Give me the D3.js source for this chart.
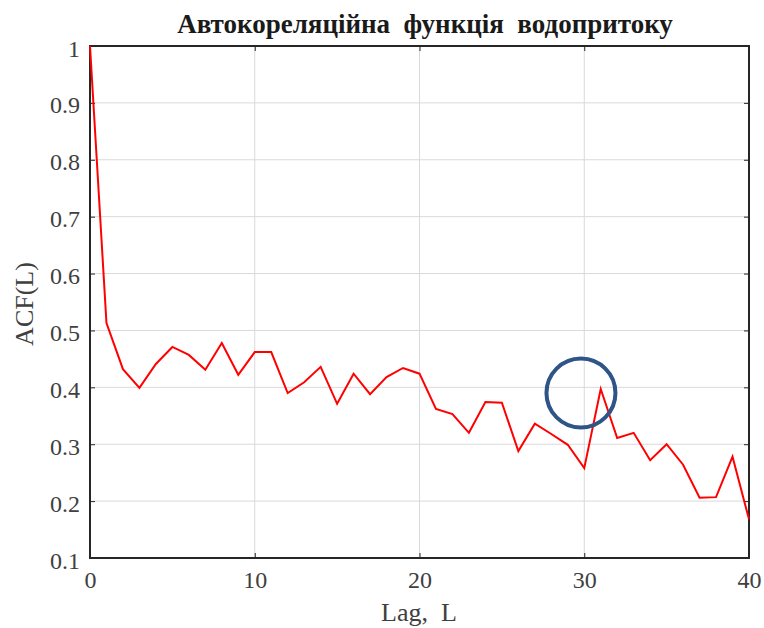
<!DOCTYPE html>
<html><head><meta charset="utf-8">
<script src="https://cdn.jsdelivr.net/npm/d3@7"></script>
<style>body{margin:0;background:#fff}svg{display:block}</style>
</head><body>
<svg id="c" width="764" height="628"></svg>
<script>
const lags = d3.range(0, 41);
const acf = [1.0, 0.513, 0.432, 0.399, 0.441, 0.471, 0.457, 0.431, 0.478, 0.422,
  0.462, 0.462, 0.390, 0.409, 0.436, 0.371, 0.424, 0.388, 0.418, 0.434,
  0.424, 0.362, 0.353, 0.320, 0.374, 0.373, 0.288, 0.336, 0.318, 0.299,
  0.258, 0.397, 0.311, 0.320, 0.272, 0.300, 0.264, 0.206, 0.207, 0.278, 0.168];
const xTicks = [0, 10, 20, 30, 40];
const yTicks = [0.1, 0.2, 0.3, 0.4, 0.5, 0.6, 0.7, 0.8, 0.9, 1];
const title = "Автокореляційна  функція  водопритоку";
const xLabel = "Lag,  L";
const yLabel = "ACF(L)";
const highlightLag = 29.8, highlightVal = 0.39;

const svg = d3.select("#c");
const L = 90, R = 749, T = 46, B = 558;
const x = d3.scaleLinear().domain([0, 40]).range([L, R]);
const y = d3.scaleLinear().domain([0.1, 1]).range([B, T]);
const serif = "'Liberation Serif', 'Times New Roman', serif";

// grid
svg.append("g").selectAll("line").data(xTicks.slice(1, -1)).join("line")
  .attr("x1", d => x(d)).attr("x2", d => x(d)).attr("y1", T).attr("y2", B)
  .attr("stroke", "#d9d9d9").attr("stroke-width", 1);
svg.append("g").selectAll("line").data(yTicks.slice(1, -1)).join("line")
  .attr("y1", d => y(d)).attr("y2", d => y(d)).attr("x1", L).attr("x2", R)
  .attr("stroke", "#d9d9d9").attr("stroke-width", 1);

// axes
const fmt = d => d3.format("~g")(d);
const axB = svg.append("g").attr("transform", `translate(0,${B})`)
  .call(d3.axisBottom(x).tickValues(xTicks).tickSizeInner(-5).tickSizeOuter(0).tickPadding(13).tickFormat(fmt));
const axL = svg.append("g").attr("transform", `translate(${L},0)`)
  .call(d3.axisLeft(y).tickValues(yTicks).tickSizeInner(-5).tickSizeOuter(0).tickPadding(10).tickFormat(fmt));
const axT = svg.append("g").attr("transform", `translate(0,${T})`)
  .call(d3.axisTop(x).tickValues(xTicks).tickSizeInner(-5).tickSizeOuter(0).tickFormat(""));
const axR = svg.append("g").attr("transform", `translate(${R},0)`)
  .call(d3.axisRight(y).tickValues(yTicks).tickSizeInner(-5).tickSizeOuter(0).tickFormat(""));
[axB, axL, axT, axR].forEach(a => {
  a.attr("font-family", null).attr("font-size", null);
  a.select(".domain").remove();
  a.selectAll("line").attr("stroke", "#262626").attr("stroke-width", 1);
  a.selectAll("text").style("font-family", serif).style("font-size", "24px").attr("fill", "#404040");
});
axL.selectAll("text").attr("dy", "0.42em");
axB.selectAll("text").attr("dy", "0.71em");

// frame
svg.append("rect").attr("x", L).attr("y", T).attr("width", R - L).attr("height", B - T)
  .attr("fill", "none").attr("stroke", "#262626").attr("stroke-width", 2);

// line
svg.append("path").datum(lags.map((l, i) => [l, acf[i]]))
  .attr("fill", "none").attr("stroke", "#ff0000").attr("stroke-width", 2)
  .attr("d", d3.line().x(d => x(d[0])).y(d => y(d[1])));

// labels
svg.append("text").attr("x", 425).attr("y", 33).attr("text-anchor", "middle")
  .style("font-family", serif).style("font-weight", "bold").style("font-size", "27px")
  .attr("fill", "#1a1a1a").style("white-space", "pre").text(title);
svg.append("text").attr("x", 419).attr("y", 621).attr("text-anchor", "middle")
  .style("font-family", serif).style("font-size", "26px").attr("fill", "#404040")
  .style("white-space", "pre").text(xLabel);
svg.append("text").attr("transform", `translate(33,304) rotate(-90)`)
  .attr("text-anchor", "middle").style("font-family", serif).style("font-size", "26px")
  .attr("fill", "#404040").text(yLabel);

// highlight circle
svg.append("circle").attr("cx", x(highlightLag)).attr("cy", y(highlightVal)).attr("r", 34.5)
  .attr("fill", "none").attr("stroke", "#2f5488").attr("stroke-width", 4);
</script>
</body></html>
